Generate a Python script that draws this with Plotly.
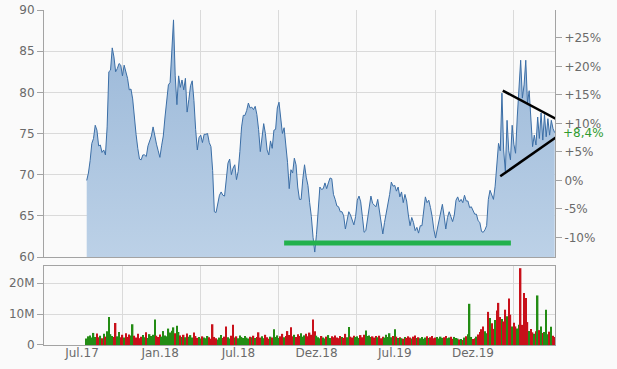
import pandas as pd
import plotly.graph_objects as go

# ---------------- data ----------------
start_date = "2017-07-12"      # first trading sample
sample_step = "4D"

price = [
    69.3, 70.2, 71.7, 73.8, 74.4, 76.0, 75.4, 73.5, 73.6, 72.7,
    73.0, 72.4, 75.8, 82.5, 82.7, 85.4, 84.3, 82.5, 82.9, 83.5,
    83.3, 82.0, 83.3, 82.6, 81.7, 80.3, 80.4, 79.2, 76.8, 74.9,
    73.2, 71.9, 71.8, 72.4, 72.4, 72.2, 73.5, 74.0, 74.7, 75.8,
    74.6, 73.7, 72.9, 72.1, 73.5, 74.7, 77.0, 79.4, 80.9, 81.2,
    84.5, 88.8, 82.0, 78.5, 82.0, 80.6, 81.5, 80.3, 81.7, 77.6,
    79.1, 80.8, 81.4, 79.0, 75.5, 73.0, 74.5, 74.8, 73.9, 74.9,
    74.9, 75.0, 73.9, 73.4, 70.5, 65.5, 65.4, 66.5, 67.5, 67.9,
    67.5, 67.4, 69.2, 71.4, 71.9, 70.0, 70.8, 71.2, 69.4, 70.4,
    72.8, 75.8, 77.2, 77.2, 77.8, 78.7, 78.1, 78.2, 77.9, 78.3,
    77.3, 75.5, 72.8, 74.6, 76.2, 75.0, 73.0, 72.4, 74.1, 73.2,
    75.4, 75.5, 78.1, 78.8, 76.6, 75.0, 75.7, 73.7, 71.5, 68.3,
    70.6, 70.2, 72.0, 71.2, 68.5, 67.0, 67.0, 69.5, 71.2, 69.7,
    68.7, 66.6, 64.9, 62.4, 60.6, 62.7, 65.3, 68.5, 68.2, 68.3,
    69.0, 68.3, 69.0, 69.6, 69.5, 67.6, 67.0, 66.2, 66.1, 65.5,
    65.5, 65.0, 63.4, 64.4, 65.5, 65.1, 64.6, 63.9, 64.9, 66.9,
    67.4, 66.7, 64.9, 63.0, 63.2, 64.7, 66.3, 67.4, 66.5, 66.3,
    66.1, 67.0, 65.6, 63.6, 62.8, 64.2, 65.3, 66.7, 67.6, 69.1,
    68.6, 68.7, 68.0, 68.5, 67.3, 67.9, 66.6, 67.6, 66.8, 65.1,
    63.8, 64.8, 64.2, 63.2, 63.6, 62.9, 63.8, 63.8, 65.4, 67.3,
    66.6, 66.9, 66.0, 64.9, 63.3, 62.3, 63.4, 64.4, 65.6, 66.4,
    65.0, 63.4, 64.8, 65.5, 64.9, 64.3, 65.1, 66.9, 67.3, 66.7,
    67.0, 66.6, 67.5, 66.8, 66.8, 66.0, 66.1, 65.7, 65.2, 65.2,
    64.4, 64.2, 63.1, 63.0, 63.3, 63.8, 67.0, 68.1, 67.5, 67.0,
    68.6, 71.8, 73.8, 72.9, 79.9, 73.0, 70.4, 76.6, 72.9, 71.8,
    76.0, 73.7, 72.6, 77.0, 80.2, 83.9, 79.3, 80.9, 83.9, 78.7,
    80.2, 76.1, 73.4, 74.8, 73.6, 77.0, 74.4, 77.5, 74.2, 77.3,
    74.6, 76.8, 74.8, 76.6, 75.6, 75.1,
]

volume_m = [
    2.1, 2.8, 3.1, 2.4, 3.9, 2.6, 3.7, 2.5, 3.0, 2.2,
    3.6, 2.7, 4.4, 9.0, 3.5, 2.9, 2.6, 7.1, 2.8, 4.2,
    2.5, 3.3, 2.4, 3.8, 2.6, 3.4, 3.1, 6.7, 3.0, 2.4,
    3.6, 2.2, 2.7, 3.2, 2.5, 4.1, 2.3, 3.5, 2.9, 3.3,
    8.2, 3.0, 2.6, 3.4, 2.7, 4.5, 3.1, 2.8, 5.3, 4.0,
    4.6, 5.7, 3.8, 6.2, 4.2, 3.1, 2.6, 3.3, 2.5, 3.7,
    2.7, 3.2, 2.4, 4.0, 2.9, 2.3, 2.6, 2.1, 2.8, 2.4,
    2.2, 2.9, 2.5, 2.0, 6.7, 2.6, 2.2, 1.8, 2.4, 3.2,
    2.3, 2.7, 6.0, 2.5, 2.1, 3.0, 6.5, 2.4, 2.8, 2.2,
    3.1, 2.6, 2.3, 2.9, 2.4, 2.1, 2.7, 2.5, 3.0, 2.3,
    2.6, 4.1, 2.4, 2.8, 2.2, 3.3, 2.5, 2.0, 2.7, 2.4,
    5.1, 2.6, 3.1, 2.3, 2.8, 3.6, 2.5, 2.9, 4.5, 3.2,
    5.7, 2.8, 3.3, 2.6, 3.5, 2.9, 3.8, 2.7, 3.1, 3.6,
    2.8, 4.0, 3.3, 8.2, 4.4, 3.0, 2.5, 2.2, 2.9, 2.4,
    2.1, 2.7, 3.2, 2.3, 2.8, 2.5, 3.1, 2.4, 2.2, 2.9,
    2.6, 2.3, 3.6, 2.5, 5.8, 2.7, 2.4, 3.0, 2.6, 2.8,
    2.3, 3.2, 2.5, 3.3, 4.7, 2.9, 3.1, 2.6, 2.8, 2.4,
    2.9, 2.5, 3.0, 2.2, 2.7, 2.4, 3.3, 2.6, 3.8, 2.5,
    2.9, 5.1, 2.7, 2.3, 2.5, 2.2, 2.0, 2.6, 2.3, 2.8,
    2.4, 2.1, 2.7, 3.1, 2.3, 2.5, 2.2, 2.6, 2.0, 2.4,
    2.8, 2.3, 2.5, 2.9, 2.2, 2.4, 2.6, 2.1, 2.7, 2.3,
    2.5, 2.9, 2.2, 2.4, 2.7, 2.0, 2.6, 2.3, 2.1, 1.8,
    1.9, 1.6, 2.4, 2.8, 3.5, 13.3, 2.6, 1.9, 2.2, 2.7,
    3.4, 4.2, 5.1, 6.0, 4.4, 3.8, 10.7, 8.7, 7.0, 5.2,
    8.1, 11.1, 13.6, 9.0, 8.4, 7.6, 11.4, 9.3, 15.0, 9.8,
    6.0, 7.2, 6.0, 5.3, 6.5, 24.8, 6.5, 16.8, 15.2, 7.4,
    4.5, 5.2, 4.1, 3.6, 4.4, 16.0, 4.8, 6.0, 3.9, 4.2,
    11.4, 3.5, 4.3, 5.9, 3.0, 2.6,
]

green_bars = [13, 27, 40, 51, 53, 110, 154, 181, 225, 265, 270]
red_bars = [17, 74, 82, 86, 120, 133, 236, 241, 242, 248, 255, 257, 258]

# drawn trend lines (date, price)
upper_line_dates = ["2020-03-16", "2020-07-22"]
upper_line_vals = [80.2, 76.7]
lower_line_dates = ["2020-03-10", "2020-07-21"]
lower_line_vals = [69.8, 74.6]
support_dates = ["2018-10-19", "2020-04-04"]
support_vals = [61.7, 61.7]

x_labels = ["Jul.17", "Jan.18", "Jul.18", "Dez.18", "Jul.19", "Dez.19"]
price_ticks = [60, 65, 70, 75, 80, 85, 90]
pct_ticks = [-10, -5, 0, 5, 10, 15, 20, 25]
vol_ticks = [0, 10e6, 20e6]
vol_tick_text = ["0", "10M", "20M"]

assert len(price) == len(volume_m)

# ---------------- derived ----------------
dates = pd.date_range(start_date, periods=len(price), freq=sample_step)
t0 = pd.Timestamp(start_date)
base = price[0]
pct = [(p / base - 1) * 100 for p in price]
pct_last = pct[-1]

up = [True] + [price[i] >= price[i - 1] for i in range(1, len(price))]
for i in green_bars:
    up[i] = True
for i in red_bars:
    up[i] = False
GREEN = "#238c14"
RED = "#c8101a"
bar_colors = [GREEN if u else RED for u in up]

# axis geometry (half-year label spacing, grid lines between labels)
half_year = 183.8
x_range = [t0 + pd.Timedelta(days=-100.4), t0 + pd.Timedelta(days=1100.7)]
label_pos = [t0 + pd.Timedelta(days=-11.05 + half_year * j) for j in range(len(x_labels))]
grid_pos = [t0 + pd.Timedelta(days=83.7 + half_year * j) for j in range(len(x_labels))]

GRID = "#dadada"
AXIS = "#a3a3a3"
TXT = "#6a6a6a"
FONT = "DejaVu Sans"

fig = go.Figure()

fig.add_trace(go.Scatter(
    x=dates, y=price, mode="lines",
    line=dict(color="#3b6ea6", width=1),
    fill="tozeroy",
    fillgradient=dict(type="vertical",
                      colorscale=[[0, "#bcd1e7"], [1, "#98b6d7"]],
                      start=60, stop=90),
    xaxis="x", yaxis="y", hoverinfo="skip", showlegend=False,
))
# invisible companion trace for the percentage axis
fig.add_trace(go.Scatter(
    x=dates, y=pct, mode="lines", line=dict(width=0, color="rgba(0,0,0,0)"),
    xaxis="x", yaxis="y2", hoverinfo="skip", showlegend=False,
))
fig.add_trace(go.Scatter(
    x=support_dates, y=support_vals, mode="lines",
    line=dict(color="#22b14c", width=5),
    xaxis="x", yaxis="y", hoverinfo="skip", showlegend=False,
))
fig.add_trace(go.Scatter(
    x=upper_line_dates, y=upper_line_vals, mode="lines",
    line=dict(color="black", width=2.5),
    xaxis="x", yaxis="y", hoverinfo="skip", showlegend=False,
))
fig.add_trace(go.Scatter(
    x=lower_line_dates, y=lower_line_vals, mode="lines",
    line=dict(color="black", width=2.5),
    xaxis="x", yaxis="y", hoverinfo="skip", showlegend=False,
))
fig.add_trace(go.Bar(
    x=dates, y=[v * 1e6 for v in volume_m],
    marker=dict(color=bar_colors, line=dict(width=0)),
    xaxis="x2", yaxis="y3", hoverinfo="skip", showlegend=False,
))

tickfont = dict(family=FONT, size=12, color=TXT)

fig.update_layout(
    width=617, height=369,
    margin=dict(l=44, r=62, t=10, b=24, autoexpand=False),
    paper_bgcolor="#fafafa", plot_bgcolor="#fafafa",
    bargap=0.15,
    showlegend=False,
    xaxis=dict(
        domain=[0, 1], anchor="y", type="date", range=x_range, automargin=False,
        showticklabels=False, ticks="", showgrid=False, zeroline=False,
        showline=True, linecolor=AXIS, linewidth=1,
        minor=dict(tickmode="array", tickvals=grid_pos, showgrid=True,
                   gridcolor=GRID, gridwidth=1, ticks=""),
    ),
    yaxis=dict(
        domain=[0.2627, 1], anchor="x", range=[60, 90], automargin=False,
        tickmode="array", tickvals=price_ticks,
        ticks="outside", ticklen=6, tickcolor=AXIS,
        showline=True, linecolor=AXIS, linewidth=1,
        showgrid=False, zeroline=False, tickfont=tickfont,
        minor=dict(tickmode="array", tickvals=price_ticks[1:-1], showgrid=True,
                   gridcolor=GRID, gridwidth=1, ticks=""),
    ),
    yaxis2=dict(
        overlaying="y", side="right", anchor="x", automargin=False,
        range=[(60 / base - 1) * 100, (90 / base - 1) * 100],
        tickmode="array", tickvals=pct_ticks,
        ticktext=[("+" if v > 0 else "") + f"{v}%" for v in pct_ticks],
        ticks="outside", ticklen=6, tickcolor=AXIS,
        showline=True, linecolor=AXIS, linewidth=1,
        showgrid=False, zeroline=False, tickfont=tickfont,
    ),
    xaxis2=dict(
        domain=[0, 1], anchor="y3", type="date", range=x_range, matches="x",
        automargin=False,
        tickmode="array", tickvals=label_pos, ticktext=x_labels,
        ticks="", showgrid=False, zeroline=False, ticklabelstandoff=-3,
        showline=True, mirror=True, linecolor=AXIS, linewidth=1,
        tickfont=tickfont,
        minor=dict(tickmode="array", tickvals=grid_pos, showgrid=True,
                   gridcolor=GRID, gridwidth=1, ticks=""),
    ),
    yaxis3=dict(
        domain=[0, 0.2358], anchor="x2", range=[0, 25.5e6], automargin=False,
        tickmode="array", tickvals=vol_ticks, ticktext=vol_tick_text,
        ticks="outside", ticklen=6, tickcolor=AXIS,
        showline=True, mirror=True, linecolor=AXIS, linewidth=1,
        showgrid=True, gridcolor=GRID, zeroline=False, tickfont=tickfont,
    ),
    annotations=[dict(
        x=1, xref="paper", y=pct_last, yref="y2",
        text=("+" if pct_last >= 0 else "") + f"{pct_last:.1f}%".replace(".", ","),
        showarrow=False, xanchor="left", yanchor="middle", xshift=6,
        font=dict(family=FONT, size=12, color="#2f9a2f"),
    )],
)

fig.write_html("out.html")
